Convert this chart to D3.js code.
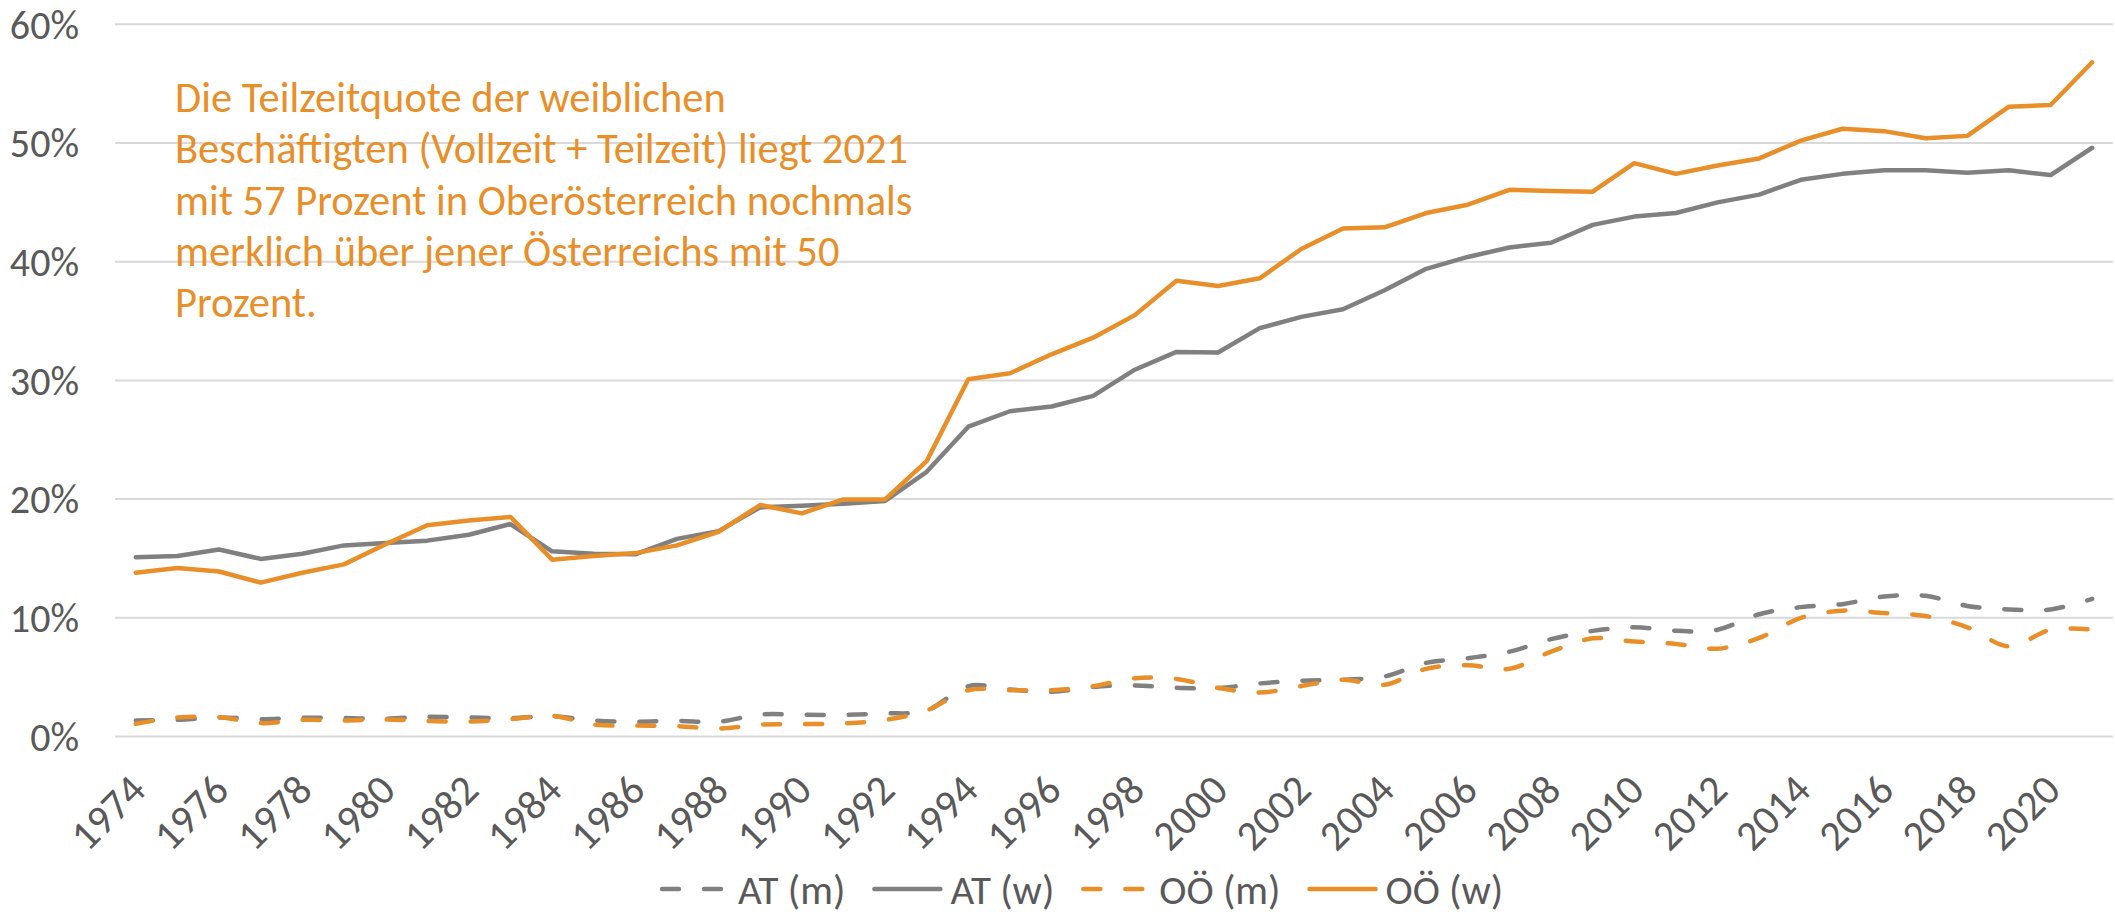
<!DOCTYPE html>
<html>
<head>
<meta charset="utf-8">
<script src="https://cdn.jsdelivr.net/npm/d3@7/dist/d3.min.js"></script>
<style>
  body { margin: 0; background: #fff; }
</style>
</head>
<body>
<div id="chart"></div>
<script>
// data (Teilzeitquote in %, 1974 - 2021)
var years = [1974,1975,1976,1977,1978,1979,1980,1981,1982,1983,1984,1985,1986,1987,1988,1989,
             1990,1991,1992,1993,1994,1995,1996,1997,1998,1999,2000,2001,2002,2003,2004,2005,
             2006,2007,2008,2009,2010,2011,2012,2013,2014,2015,2016,2017,2018,2019,2020,2021];

var atM = [1.35,1.4,1.6,1.46,1.58,1.55,1.5,1.66,1.6,1.55,1.7,1.35,1.25,1.32,1.25,1.85,
           1.83,1.83,1.94,2.2,4.24,3.96,3.76,4.18,4.3,4.1,4.08,4.47,4.7,4.78,5.06,6.2,
           6.6,7.15,8.2,8.9,9.2,8.9,9.0,10.3,10.9,11.15,11.8,11.85,11.0,10.7,10.7,11.6];

var atW = [15.1,15.2,15.75,14.96,15.4,16.1,16.3,16.5,17.0,17.9,15.6,15.4,15.35,16.65,17.3,19.3,
           19.45,19.6,19.85,22.3,26.1,27.4,27.8,28.7,30.9,32.4,32.35,34.4,35.35,36.0,37.6,39.4,
           40.4,41.2,41.6,43.1,43.8,44.1,45.0,45.65,46.9,47.4,47.7,47.7,47.5,47.7,47.3,49.6];

var ooeM = [1.07,1.6,1.63,1.13,1.4,1.35,1.44,1.3,1.27,1.46,1.75,1.0,0.92,0.87,0.67,1.0,
            1.04,1.1,1.4,2.2,3.9,3.9,3.9,4.24,4.9,4.85,4.1,3.7,4.25,4.78,4.36,5.7,
            6.0,5.7,7.15,8.27,8.0,7.8,7.4,8.3,10.0,10.6,10.4,10.15,9.2,7.6,9.0,9.0];

var ooeW = [13.8,14.2,13.9,12.96,13.8,14.5,16.2,17.8,18.2,18.5,14.9,15.2,15.45,16.1,17.25,19.5,
            18.8,19.97,19.97,23.2,30.1,30.6,32.2,33.6,35.5,38.4,37.96,38.6,41.07,42.8,42.9,44.1,
            44.8,46.06,45.95,45.9,48.3,47.4,48.1,48.7,50.2,51.2,51.0,50.4,50.6,53.06,53.2,56.8];

var seriesNames = ["AT (m)", "AT (w)", "OÖ (m)", "OÖ (w)"];
var yTicks = [0, 10, 20, 30, 40, 50, 60];
var xTicks = [1974,1976,1978,1980,1982,1984,1986,1988,1990,1992,1994,1996,1998,2000,2002,2004,
              2006,2008,2010,2012,2014,2016,2018,2020];

var captionLines = ["Die Teilzeitquote der weiblichen",
                    "Beschäftigten (Vollzeit + Teilzeit) liegt 2021",
                    "mit 57 Prozent in Oberösterreich nochmals",
                    "merklich über jener Österreichs mit 50",
                    "Prozent."];

var gray = "#808080", orange = "#E98F2A", textGray = "#595959", gridGray = "#D9D9D9";
var fontFam = "Carlito, Calibri, Lato, sans-serif";
var fontSize = 42, yFontSize = 40, captionSize = 42.5, legendSize = 41;

// set the dimensions and margins of the graph
var margin = {top: 24.3, right: 2, bottom: 177.5, left: 115},
    width = 2115 - margin.left - margin.right,
    height = 914 - margin.top - margin.bottom;

var svg = d3.select("#chart").append("svg")
    .attr("width", 2115)
    .attr("height", 914)
  .append("g")
    .attr("transform", "translate(" + margin.left + "," + margin.top + ")");

var x = d3.scaleBand()
    .domain(years)
    .range([0, width]);

var y = d3.scaleLinear()
    .domain([0, 60])
    .range([height, 0]);

function px(d) { return x(d) + x.bandwidth() / 2; }

// gridlines
svg.selectAll(".grid")
    .data(yTicks)
  .enter().append("line")
    .attr("class", "grid")
    .attr("x1", 0)
    .attr("x2", width)
    .attr("y1", function(d) { return y(d); })
    .attr("y2", function(d) { return y(d); })
    .attr("stroke", gridGray)
    .attr("stroke-width", 2);

// y axis labels
svg.selectAll(".ylab")
    .data(yTicks)
  .enter().append("text")
    .attr("class", "ylab")
    .attr("x", -36)
    .attr("y", function(d) { return y(d); })
    .attr("dy", "0.36em")
    .attr("text-anchor", "end")
    .attr("font-family", fontFam)
    .attr("font-size", yFontSize)
    .attr("fill", textGray)
    .text(function(d) { return d + "%"; });

// x axis (rotated year labels)
var xAxis = svg.append("g")
    .attr("transform", "translate(0," + height + ")")
    .call(d3.axisBottom(x).tickValues(xTicks).tickSize(0));

xAxis.select(".domain").remove();
xAxis.attr("font-family", fontFam).attr("font-size", fontSize);
xAxis.selectAll("text")
    .attr("fill", textGray)
    .attr("x", 12)
    .attr("y", 56)
    .attr("dy", 0)
    .attr("text-anchor", "end")
    .attr("transform", "rotate(-45, 12, 56)");

// lines
var series = [
  {name: seriesNames[0], values: atM,  color: gray,   dashed: true},
  {name: seriesNames[1], values: atW,  color: gray,   dashed: false},
  {name: seriesNames[2], values: ooeM, color: orange, dashed: true},
  {name: seriesNames[3], values: ooeW, color: orange, dashed: false}
];

var straight = d3.line()
    .x(function(d, i) { return px(years[i]); })
    .y(function(d) { return y(d); });

var smooth = d3.line()
    .x(function(d, i) { return px(years[i]); })
    .y(function(d) { return y(d); })
    .curve(d3.curveCardinal.tension(0));

svg.selectAll(".series")
    .data(series)
  .enter().append("path")
    .attr("class", "series")
    .attr("fill", "none")
    .attr("stroke", function(d) { return d.color; })
    .attr("stroke-width", 4.5)
    .attr("stroke-linecap", "round")
    .attr("stroke-linejoin", "round")
    .attr("stroke-dasharray", function(d) { return d.dashed ? "17,25" : null; })
    .attr("d", function(d) { return d.dashed ? smooth(d.values) : straight(d.values); });

// caption
var caption = svg.append("text")
    .attr("font-family", fontFam)
    .attr("font-size", captionSize)
    .attr("fill", orange);

caption.selectAll("tspan")
    .data(captionLines)
  .enter().append("tspan")
    .attr("x", 175 - margin.left)
    .attr("y", function(d, i) { return 112 - margin.top + i * 51.3; })
    .text(function(d) { return d; });

// legend
var legend = svg.append("g")
    .attr("transform", "translate(" + (660 - margin.left) + "," + (889 - margin.top) + ")");

var lx = 0;
series.forEach(function(s) {
  var item = legend.append("g").attr("transform", "translate(" + lx + ",0)");
  item.append("line")
      .attr("x1", 2).attr("x2", s.dashed ? 66 : 68)
      .attr("y1", 0).attr("y2", 0)
      .attr("stroke", s.color)
      .attr("stroke-width", 4.5)
      .attr("stroke-linecap", "round")
      .attr("stroke-dasharray", s.dashed ? "17,25" : null);
  var t = item.append("text")
      .attr("x", 78)
      .attr("y", 0)
      .attr("dy", "0.36em")
      .attr("font-family", fontFam)
      .attr("font-size", legendSize)
      .attr("fill", textGray)
      .text(s.name);
  lx += 78 + t.node().getComputedTextLength() + 27;
});
</script>
</body>
</html>
